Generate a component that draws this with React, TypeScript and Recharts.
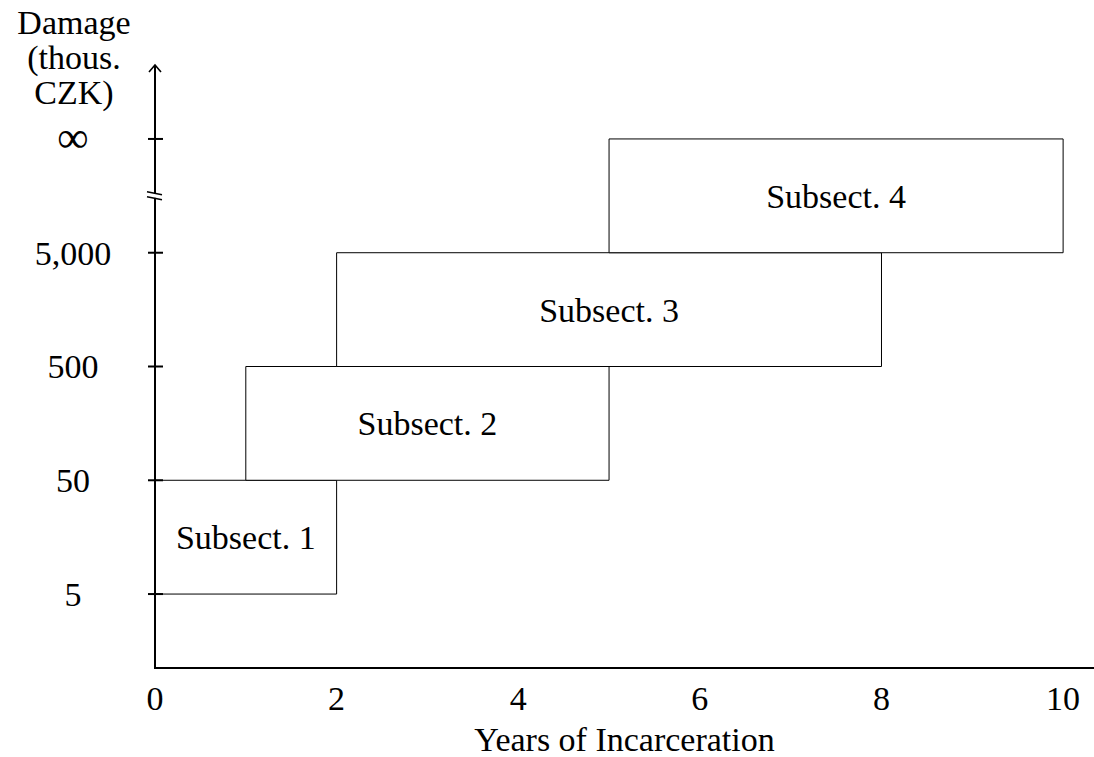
import React from 'react';
import { ComposedChart, XAxis, YAxis, ReferenceArea, ReferenceLine } from 'recharts';

// subsections of the sentencing table
const subsectLabels = ['Subsect. 1', 'Subsect. 2', 'Subsect. 3', 'Subsect. 4'];
const yearsFrom = [0, 1, 2, 5];
const yearsTo = [2, 5, 8, 10];
// damage levels on the broken log-like axis (1 = 5, 2 = 50, ...)
const damageFrom = [1, 2, 3, 4];
const damageTo = [2, 3, 4, 5];

const yearTicks = [0, 2, 4, 6, 8, 10];
const damageLevels = [1, 2, 3, 4, 5];
const damageTickLabels = ['5', '50', '500', '5,000', '\u221E'];
const damageTitle = ['Damage', '(thous.', 'CZK)'];

const FONT = 34;
const Y_MIN = 0.35;
const Y_MAX = 5.65;
const BREAK_AT = 4.5;

const boxes = subsectLabels.map((label, i) => ({
  label,
  x1: yearsFrom[i],
  x2: yearsTo[i],
  y1: damageFrom[i],
  y2: damageTo[i],
}));

const DamageTick = (props: any) => {
  const { x, y, payload } = props;
  const idx = damageLevels.indexOf(payload.value);
  const isInf = damageTickLabels[idx] === '\u221E';
  return (
    <g>
      <line x1={x - 7} x2={x + 8} y1={y} y2={y} stroke="#000" strokeWidth={2} />
      <text
        x={x - 82}
        y={y}
        dy={isInf ? '0.3em' : '0.35em'}
        textAnchor="middle"
        fontSize={isInf ? 44 : FONT}
        fill="#000"
      >
        {damageTickLabels[idx]}
      </text>
    </g>
  );
};

// vertical axis drawn by hand: arrow on top, break marks near the top tick
const DamageAxis = (props: any) => {
  const { x1, y1, y2 } = props;
  const bottom = Math.max(y1, y2);
  const top = Math.min(y1, y2);
  const span = bottom - top;
  const breakY = bottom - ((BREAK_AT - Y_MIN) / (Y_MAX - Y_MIN)) * span;
  return (
    <g>
      <line x1={x1} x2={x1} y1={bottom + 1} y2={top} stroke="#000" strokeWidth={2} />
      <polyline
        points={`${x1 - 6},${top + 7} ${x1},${top} ${x1 + 6},${top + 7}`}
        fill="none"
        stroke="#000"
        strokeWidth={1.6}
      />
      <rect x={x1 - 3} y={breakY - 2} width={6} height={4} fill="#fff" />
      <line x1={x1 - 8} x2={x1 + 7} y1={breakY - 4} y2={breakY - 1} stroke="#000" strokeWidth={1.5} />
      <line x1={x1 - 8} x2={x1 + 7} y1={breakY + 1} y2={breakY + 4} stroke="#000" strokeWidth={1.5} />
      <text x={x1 - 81} textAnchor="middle" fontSize={FONT} fill="#000">
        {damageTitle.map((t, i) => (
          <tspan key={t} x={x1 - 81} y={top - 31 + i * 35}>
            {t}
          </tspan>
        ))}
      </text>
    </g>
  );
};

const App: React.FC = () => {
  return (
    <div style={{ position: 'absolute', left: 0, top: 0, background: '#fff', fontFamily: '"Liberation Serif", serif' }}>
      <ComposedChart width={1094} height={757} margin={{ top: 65, right: 0, bottom: 0, left: 0 }}>
        <XAxis
          type="number"
          dataKey="x"
          domain={[0, 10.34]}
          ticks={yearTicks}
          allowDataOverflow
          height={89}
          axisLine={{ stroke: '#000', strokeWidth: 2 }}
          tickLine={false}
          tickSize={0}
          tickMargin={18}
          tick={{ fill: '#000', fontSize: FONT }}
          label={{ value: 'Years of Incarceration', position: 'insideBottom', offset: 6, fill: '#000', fontSize: FONT }}
        />
        <YAxis
          type="number"
          dataKey="y"
          domain={[Y_MIN, Y_MAX]}
          ticks={damageLevels}
          allowDataOverflow
          width={155}
          axisLine={false}
          tickLine={false}
          tickSize={0}
          tickMargin={0}
          tick={<DamageTick />}
        />
        {boxes.map((b) => (
          <ReferenceArea
            key={b.label}
            x1={b.x1}
            x2={b.x2}
            y1={b.y1}
            y2={b.y2}
            fill="#fff"
            fillOpacity={1}
            stroke="#000"
            strokeWidth={1}
            ifOverflow="visible"
            label={{ value: b.label, position: 'center', fill: '#000', fontSize: FONT }}
          />
        ))}
        <ReferenceLine
          segment={[{ x: 0, y: Y_MIN }, { x: 0, y: Y_MAX }]}
          ifOverflow="visible"
          shape={(p: any) => <DamageAxis {...p} />}
        />
      </ComposedChart>
    </div>
  );
};

export default App;
